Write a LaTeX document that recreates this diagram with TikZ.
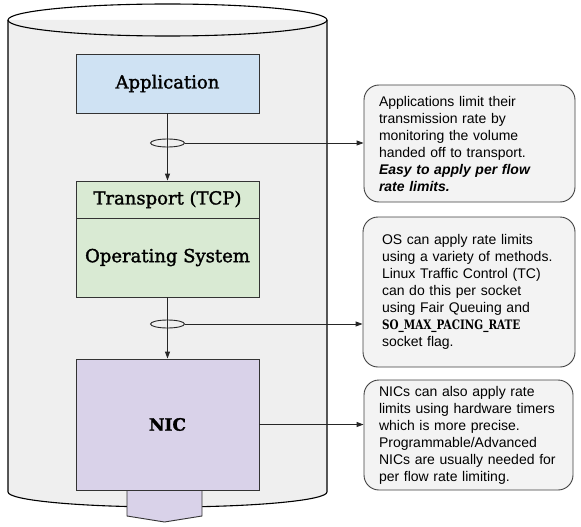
\documentclass[tikz,border=0pt]{standalone}
\usepackage{fontspec}
\usepackage{xcolor}
\setmainfont{Liberation Sans}
\newfontfamily\slab[FakeBold=1.6]{DejaVu Serif}
\newfontfamily\slabflag[FakeStretch=0.8]{DejaVu Serif}
\usetikzlibrary{calc,shapes.geometric,arrows.meta}

\definecolor{cylfill}{HTML}{EFEFEF}
\definecolor{notefill}{HTML}{F3F3F3}
\definecolor{appblue}{HTML}{CFE2F3}
\definecolor{osgreen}{HTML}{D9EAD3}
\definecolor{niclav}{HTML}{D9D2E9}

\begin{document}
\begin{tikzpicture}[x=1pt, y=-1pt,
        layer/.style={rectangle,draw=black!80,line width=0.9pt,minimum width=183pt,font=\slab\fontsize{18}{20}\selectfont},
        ring/.style={ellipse,draw=black!85,line width=0.9pt,minimum width=34pt,minimum height=8pt,inner sep=0pt},
        note/.style={rectangle,draw=black!75,line width=0.9pt,fill=notefill,rounded corners=15pt,align=left,inner sep=0pt,font=\fontsize{14}{17}\selectfont},
        flow/.style={draw=black!85,line width=0.9pt,-{Triangle[length=7pt,width=5pt]}}]
            \useasboundingbox (0,0) rectangle (581,527);

            \fill[cylfill] (8,20) -- (8,492) arc[start angle=180,end angle=360,x radius=159.5pt,y radius=15pt] -- (327,20) -- cycle;
            \draw[line width=1.1pt] (8,20) -- (8,492) arc[start angle=180,end angle=360,x radius=159.5pt,y radius=15pt] -- (327,20);
            \draw[line width=1.1pt] (167.5,20) ellipse[x radius=159.5pt,y radius=16pt];

            \node[layer,fill=appblue,minimum height=59pt] (app) at (167.5,83.5) {Application};
            \node[layer,fill=osgreen,minimum height=37pt] (tcp) at (167.5,199.5) {Transport (TCP)};
            \node[layer,fill=osgreen,minimum height=79pt] (os) at (167.5,257.5) {Operating System};

            \draw[fill=niclav,draw=black!80,line width=0.9pt] (127,490) -- (127,516) -- (164.5,522) -- (202,516) -- (202,490);
            \node[layer,fill=niclav,minimum height=131pt,font=\slab\bfseries\fontsize{17}{20}\selectfont] (nic) at (167.5,424.5) {NIC};

            \node[ring] (r1) at (167.5,143) {};
            \node[ring] (r2) at (167.5,324) {};

            \node[note,minimum width=211pt,minimum height=117pt,text width=181pt] (c1) at (469.5,143.5)
                {Applications limit their\\ transmission rate by\\ monitoring the volume\\ handed off to transport.\\ \textbf{\textit{Easy to apply per flow\\ rate limits.}}};
            \node[note,minimum width=212pt,minimum height=150pt,text width=174pt] (c2) at (469,292)
                {OS can apply rate limits\\ using a variety of methods.\\ Linux Traffic Control (TC)\\ can do this per socket\\ using Fair Queuing and\\ {\slabflag\bfseries\fontsize{13}{17}\selectfont SO\_MAX\_PACING\_RATE}\\ socket flag.};
            \node[note,minimum width=209pt,minimum height=110pt,text width=179pt] (c3) at (468.5,435)
                {NICs can also apply rate\\ limits using hardware timers\\ which is more precise.\\ Programmable/Advanced\\ NICs are usually needed for\\ per flow rate limiting.};

            \draw[flow] (app) -- (tcp);
            \draw[flow] (os) -- (nic);
            \draw[flow] (r1.east) -- (r1 -| c1.west);
            \draw[flow] (r2.east) -- (r2 -| c2.west);
            \draw[flow] (nic.east) -- (nic.east -| c3.west);
        \end{tikzpicture}
\end{document}
